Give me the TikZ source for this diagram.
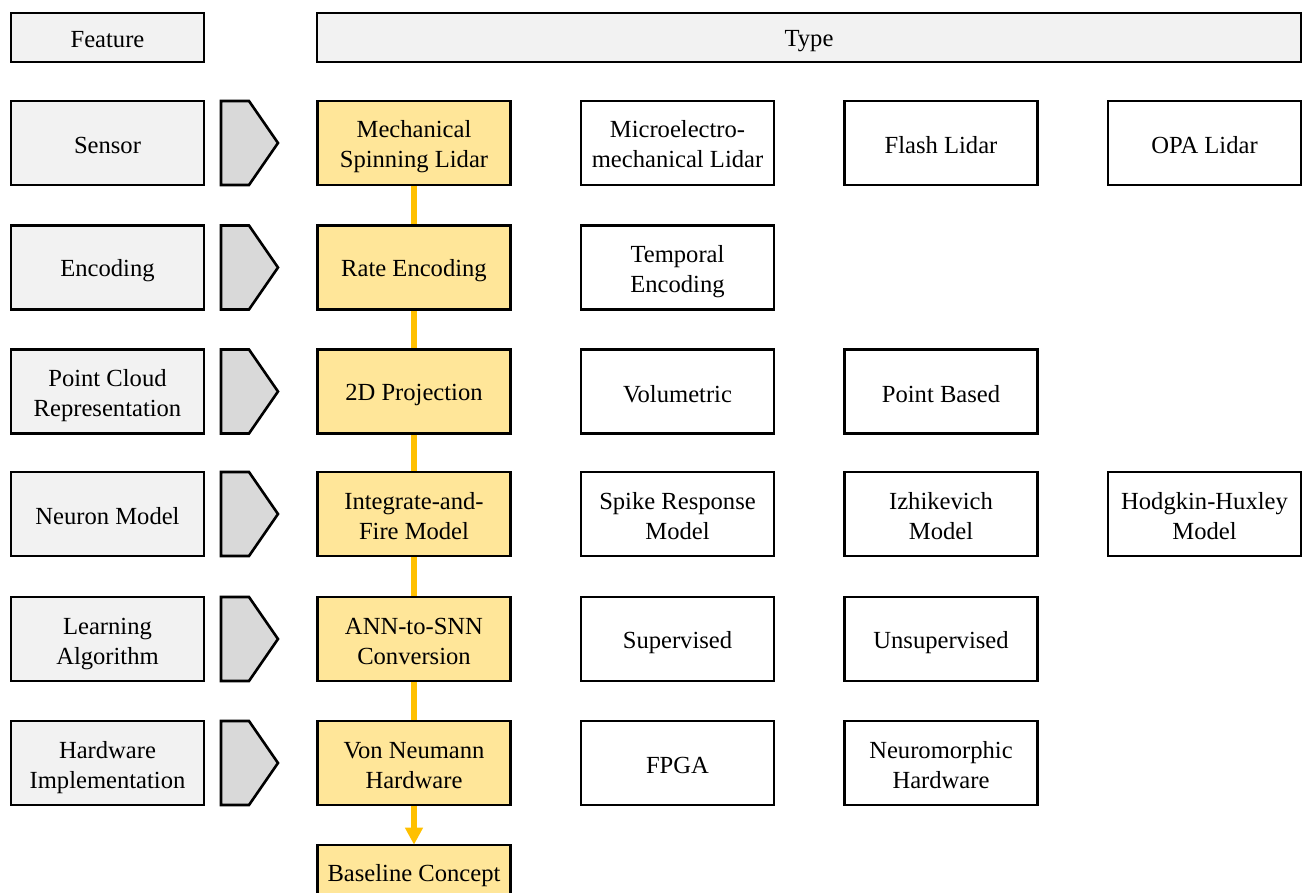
\documentclass[tikz,border=0pt]{standalone}
\usepackage{fontspec}
\setmainfont{Liberation Serif}
\newfontfamily\boxface{Liberation Serif}
\usetikzlibrary{arrows.meta}
\definecolor{headfill}{HTML}{F2F2F2}
\definecolor{chevfill}{HTML}{D9D9D9}
\definecolor{basefill}{HTML}{FFE699}
\definecolor{baseline}{HTML}{FFC000}
% fixed line extents so every box centres its text the same way
\newcommand\linestrut{\rule[-3pt]{0pt}{27pt}}
\newcommand\twolines[2]{\rule{0pt}{26pt}#1\\#2\rule[-6pt]{0pt}{6pt}}
\begin{document}
\begin{tikzpicture}[x=1pt,y=-1pt,
  cell/.style={draw=black, line width=2.6pt, minimum width=193pt, minimum height=84pt,
    inner sep=0pt, align=center, font=\boxface\fontsize{24.6}{30}\selectfont,
    execute at begin node=\linestrut, execute at end node=\linestrut},
  head/.style={cell, fill=headfill, minimum height=49pt},
  feat/.style={cell, fill=headfill},
  pick/.style={cell, fill=basefill},
  opt/.style={cell, fill=white},
  chev/.style={draw=black, line width=2.6pt, fill=chevfill, line join=miter},
  flow/.style={draw=baseline, line width=6pt}]
\useasboundingbox (0,0) rectangle (1304,893);

% headers
\node[head] (hfeat) at (107.5,37.5) {Feature};
\node[head, minimum width=984pt] (htype) at (809,37.5) {Type};

% feature column
\node[feat] (f1) at (107.5,143) {Sensor};
\node[feat] (f2) at (107.5,267.5) {Encoding};
\node[feat] (f3) at (107.5,391.5) {\twolines{Point Cloud}{Representation}};
\node[feat] (f4) at (107.5,514) {Neuron Model};
\node[feat] (f5) at (107.5,639) {\twolines{Learning}{Algorithm}};
\node[feat] (f6) at (107.5,763) {\twolines{Hardware}{Implementation}};

% chevrons between feature and chosen type
\foreach \yc in {143,267.5,391.5,514,639,763}{
  \draw[chev] (221,\yc-42) -- (249,\yc-42) -- (278,\yc) -- (249,\yc+42) -- (221,\yc+42) -- cycle;
}

% chosen types
\node[pick] (p1) at (414,143) {\twolines{Mechanical}{Spinning Lidar}};
\node[pick] (p2) at (414,267.5) {Rate Encoding};
\node[pick] (p3) at (414,391.5) {2D Projection};
\node[pick] (p4) at (414,514) {\twolines{Integrate-and-}{Fire Model}};
\node[pick] (p5) at (414,639) {\twolines{ANN-to-SNN}{Conversion}};
\node[pick] (p6) at (414,763) {\twolines{Von Neumann}{Hardware}};
\node[pick, minimum height=54pt] (p7) at (414,872) {Baseline Concept};

% alternatives
\node[opt] (a12) at (677.5,143) {\twolines{Microelectro-}{mechanical Lidar}};
\node[opt] (a13) at (941,143) {Flash Lidar};
\node[opt] (a14) at (1204.5,143) {OPA Lidar};
\node[opt] (a22) at (677.5,267.5) {\twolines{Temporal}{Encoding}};
\node[opt] (a32) at (677.5,391.5) {Volumetric};
\node[opt] (a33) at (941,391.5) {Point Based};
\node[opt] (a42) at (677.5,514) {\twolines{Spike Response}{Model}};
\node[opt] (a43) at (941,514) {\twolines{Izhikevich}{Model}};
\node[opt] (a44) at (1204.5,514) {\twolines{Hodgkin-Huxley}{Model}};
\node[opt] (a52) at (677.5,639) {Supervised};
\node[opt] (a53) at (941,639) {Unsupervised};
\node[opt] (a62) at (677.5,763) {FPGA};
\node[opt] (a63) at (941,763) {\twolines{Neuromorphic}{Hardware}};

% baseline path
\draw[flow] (p1.south) -- (p2.north);
\draw[flow] (p2.south) -- (p3.north);
\draw[flow] (p3.south) -- (p4.north);
\draw[flow] (p4.south) -- (p5.north);
\draw[flow] (p5.south) -- (p6.north);
\draw[flow, -{Triangle[width=17pt,length=17pt]}, shorten >=-1pt] (p6.south) -- (p7.north);
\end{tikzpicture}
\end{document}
